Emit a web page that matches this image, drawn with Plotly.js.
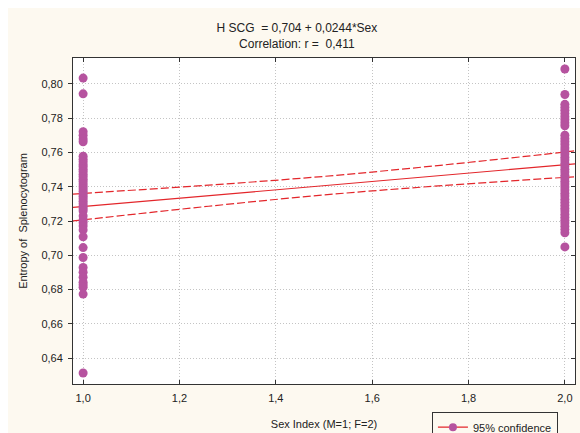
<!DOCTYPE html>
<html>
<head>
<meta charset="utf-8">
<script src="https://cdn.plot.ly/plotly-3.0.1.min.js"></script>
<style>
html,body{margin:0;padding:0;background:#ffffff;overflow:hidden;}
#chart{position:absolute;left:8px;top:8px;width:572px;height:440px;}
</style>
</head>
<body>
<div id="chart"></div>
<script>
// Scatter data (Sex index 1 = male, 2 = female)
const maleX = 1;
const maleEntropy = [0.8033, 0.7941, 0.7720, 0.7700, 0.7678, 0.7662, 0.7578, 0.7560, 0.7545, 0.7530,
  0.7517, 0.7502, 0.7488, 0.7473, 0.7459, 0.7444, 0.7430, 0.7415, 0.7401, 0.7387, 0.7373, 0.7358,
  0.7344, 0.7330, 0.7315, 0.7300, 0.7286, 0.7272, 0.7258, 0.7229, 0.7206, 0.7190, 0.7171, 0.7148,
  0.7108, 0.7045, 0.6987, 0.6929, 0.6901, 0.6872, 0.6843, 0.6828, 0.6814, 0.6774, 0.6314];
const femaleX = 2;
const femaleEntropy = [0.8086, 0.7937, 0.7880, 0.7862, 0.7845, 0.7826, 0.7808, 0.7790, 0.7772, 0.7755,
  0.7700, 0.7680, 0.7662, 0.7645, 0.7626, 0.7608, 0.7590, 0.7572, 0.7555, 0.7537, 0.7520, 0.7502,
  0.7485, 0.7467, 0.7450, 0.7432, 0.7415, 0.7398, 0.7380, 0.7362, 0.7345, 0.7327, 0.7310, 0.7292,
  0.7275, 0.7258, 0.7240, 0.7222, 0.7205, 0.7188, 0.7170, 0.7150, 0.7131, 0.7049];

// Regression line and 95% confidence band
const fitX = [0.979, 2.021];
const fitY = [0.7279, 0.7533];
const bandX = [0.979, 1.0, 1.25, 1.5, 1.75, 2.0, 2.021];
const bandUpper = [0.7357, 0.7361, 0.7407, 0.7460, 0.7527, 0.7602, 0.7609];
const bandLower = [0.7201, 0.7207, 0.7283, 0.7352, 0.7407, 0.7454, 0.7457];

const titleLines = ['H SCG  = 0,704 + 0,0244*Sex', 'Correlation: r =  0,411'];
const xTitle = 'Sex Index (M=1; F=2)';
const yTitle = 'Entropy of  Splenocytogram';
const legendLabel = '95% confidence';

const xTicks = [1.0, 1.2, 1.4, 1.6, 1.8, 2.0];
const yTicks = [0.64, 0.66, 0.68, 0.70, 0.72, 0.74, 0.76, 0.78, 0.80];

const purple = '#b6539f';
const red = '#e3262b';

const allX = [], allY = [];
maleEntropy.forEach(v => { allX.push(maleX); allY.push(v); });
femaleEntropy.forEach(v => { allX.push(femaleX); allY.push(v); });

const traces = [
  {x: bandX, y: bandUpper, mode: 'lines', line: {color: red, width: 1.2, dash: '8px,3px', shape: 'spline'}, showlegend: false, hoverinfo: 'skip'},
  {x: bandX, y: bandLower, mode: 'lines', line: {color: red, width: 1.2, dash: '8px,3px', shape: 'spline'}, showlegend: false, hoverinfo: 'skip'},
  {x: fitX, y: fitY, mode: 'lines', line: {color: red, width: 1.2}, showlegend: false},
  {x: allX, y: allY, mode: 'markers', marker: {color: purple, size: 9}, showlegend: false},
  {x: [null], y: [null], mode: 'lines+markers', name: legendLabel, line: {color: red, width: 1.2}, marker: {color: purple, size: 8}, showlegend: true},
  {x: [allX[0]], y: [allY[0]], xaxis: 'x2', yaxis: 'y2', mode: 'markers', marker: {opacity: 0}, showlegend: false, hoverinfo: 'skip'}
];

const font = {family: 'Liberation Sans, Arial, sans-serif', size: 11, color: '#222222'};
const frame = '#333333';
const grid = '#c4c4c4';

const layout = {
  width: 572, height: 440,
  margin: {l: 65, r: 5, t: 50, b: 60},
  paper_bgcolor: '#fdf9f0',
  plot_bgcolor: '#ffffff',
  separators: ',.',
  font: font,
  title: {
    text: titleLines.join('<br>'),
    font: {family: font.family, size: 12, color: '#222222'},
    x: 0.505, xref: 'container', xanchor: 'center',
    y: 0.945, yref: 'container', yanchor: 'top'
  },
  xaxis: {
    range: [0.979, 2.021], tickvals: xTicks, tickformat: '.1f',
    ticks: 'inside', ticklen: 4, tickcolor: frame, ticklabelstandoff: 4,
    showline: true, linecolor: frame, linewidth: 1, mirror: 'ticks',
    showgrid: true, gridcolor: grid, griddash: '1px,2px', gridwidth: 1,
    zeroline: false,
    title: {text: xTitle, font: font, standoff: 17}
  },
  yaxis: {
    range: [0.625, 0.815], tickvals: yTicks, tickformat: '.2f',
    ticks: 'outside', ticklen: 4, tickcolor: frame, ticklabelstandoff: 3,
    showline: true, linecolor: frame, linewidth: 1, mirror: true,
    showgrid: true, gridcolor: grid, griddash: '1px,2px', gridwidth: 1,
    zeroline: false,
    title: {text: yTitle, font: font, standoff: 11}
  },
  xaxis2: {
    range: [0.979, 2.021], tickvals: xTicks, overlaying: 'x', side: 'top',
    ticks: 'inside', ticklen: 4, tickcolor: frame, showticklabels: false,
    showgrid: false, zeroline: false, showline: false
  },
  yaxis2: {
    range: [0.625, 0.815], tickvals: yTicks, overlaying: 'y', side: 'right',
    ticks: 'inside', ticklen: 4, tickcolor: frame, showticklabels: false,
    showgrid: false, zeroline: false, showline: false
  },
  legend: {
    x: 0.715, xref: 'paper', xanchor: 'left',
    y: -0.085, yref: 'paper', yanchor: 'top',
    bgcolor: '#fdf9f0', bordercolor: frame, borderwidth: 1,
    font: font, itemwidth: 30
  },
  showlegend: true
};

Plotly.newPlot('chart', traces, layout, {displayModeBar: false, staticPlot: true});
</script>
</body>
</html>
